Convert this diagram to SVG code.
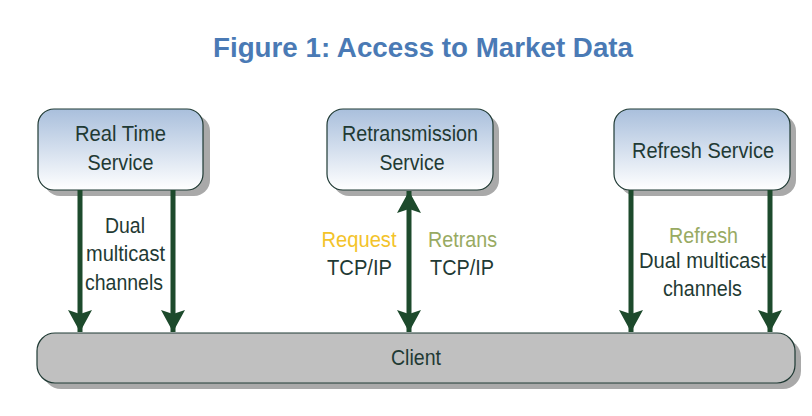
<svg xmlns="http://www.w3.org/2000/svg" width="812" height="416" viewBox="0 0 812 416">
<defs>
<linearGradient id="g" x1="0" y1="0" x2="0" y2="1">
<stop offset="0" stop-color="#a9bfdc"/>
<stop offset="1" stop-color="#ffffff"/>
</linearGradient>
<marker id="ah2" viewBox="0 0 22 24" refX="22" refY="12" markerWidth="22" markerHeight="24" markerUnits="userSpaceOnUse" orient="auto-start-reverse">
<path d="M0,0 L22,12 L0,24 L4,12 Z" fill="#1d4a2c"/>
</marker>
</defs>
<style>
text{font-family:"Liberation Sans",Arial,sans-serif;font-size:22.5px;fill:#1f3a34;text-anchor:middle}
.box{fill:url(#g);stroke:#1f3a34;stroke-width:1.2}
.sh{fill:#8c8c8c;opacity:0.75}
.arr{stroke:#1d4a2c;stroke-width:5;fill:none}
.title{font-size:27.5px;font-weight:bold;fill:#4a7ab5}
.req{fill:#f3c32a}
.ol{fill:#98aa62}
</style>
<rect width="812" height="416" fill="#ffffff"/>
<text class="title" x="423" y="57" textLength="420" lengthAdjust="spacingAndGlyphs">Figure 1: Access to Market Data</text>
<g id="client">
<rect class="sh" x="43" y="339" width="758" height="50" rx="18"/>
<rect x="37" y="333" width="758" height="50" rx="18" fill="#c0c0c0" stroke="#1f3a34" stroke-width="1.2"/>
<text x="416" y="365" textLength="50" lengthAdjust="spacingAndGlyphs">Client</text>
</g>
<g id="realtime">
<rect class="sh" x="44" y="115" width="166" height="81" rx="16"/>
<rect class="box" x="38" y="109" width="165" height="81" rx="16"/>
<text x="120.5" y="141" textLength="91" lengthAdjust="spacingAndGlyphs">Real Time</text>
<text x="120.5" y="170" textLength="66" lengthAdjust="spacingAndGlyphs">Service</text>
</g>
<g id="retrans">
<rect class="sh" x="333" y="115" width="166" height="81" rx="16"/>
<rect class="box" x="327" y="109" width="166" height="81" rx="16"/>
<text x="410" y="141" textLength="136" lengthAdjust="spacingAndGlyphs">Retransmission</text>
<text x="412" y="170" textLength="65" lengthAdjust="spacingAndGlyphs">Service</text>
</g>
<g id="refresh">
<rect class="sh" x="620" y="115" width="176" height="81" rx="16"/>
<rect class="box" x="614" y="109" width="176" height="81" rx="16"/>
<text x="703" y="158" textLength="142" lengthAdjust="spacingAndGlyphs">Refresh Service</text>
</g>
<g id="connectors">
<line class="arr" x1="80" y1="190" x2="80" y2="332" marker-end="url(#ah2)"/>
<line class="arr" x1="173" y1="190" x2="173" y2="332" marker-end="url(#ah2)"/>
<line class="arr" x1="409" y1="191" x2="409" y2="332" marker-start="url(#ah2)" marker-end="url(#ah2)"/>
<line class="arr" x1="631" y1="190" x2="631" y2="332" marker-end="url(#ah2)"/>
<line class="arr" x1="770" y1="190" x2="770" y2="332" marker-end="url(#ah2)"/>
</g>
<g id="labels">
<text x="125" y="233" textLength="40" lengthAdjust="spacingAndGlyphs">Dual</text>
<text x="125.5" y="261" textLength="79" lengthAdjust="spacingAndGlyphs">multicast</text>
<text x="124" y="290" textLength="78" lengthAdjust="spacingAndGlyphs">channels</text>
<text class="req" x="359" y="247" textLength="75" lengthAdjust="spacingAndGlyphs">Request</text>
<text x="359.5" y="275" textLength="65" lengthAdjust="spacingAndGlyphs">TCP/IP</text>
<text class="ol" x="462.5" y="247" textLength="69" lengthAdjust="spacingAndGlyphs">Retrans</text>
<text x="462" y="275" textLength="64" lengthAdjust="spacingAndGlyphs">TCP/IP</text>
<text class="ol" x="703.5" y="243" textLength="69" lengthAdjust="spacingAndGlyphs">Refresh</text>
<text x="702.5" y="268" textLength="127" lengthAdjust="spacingAndGlyphs">Dual multicast</text>
<text x="702.5" y="296" textLength="79" lengthAdjust="spacingAndGlyphs">channels</text>
</g>
</svg>
